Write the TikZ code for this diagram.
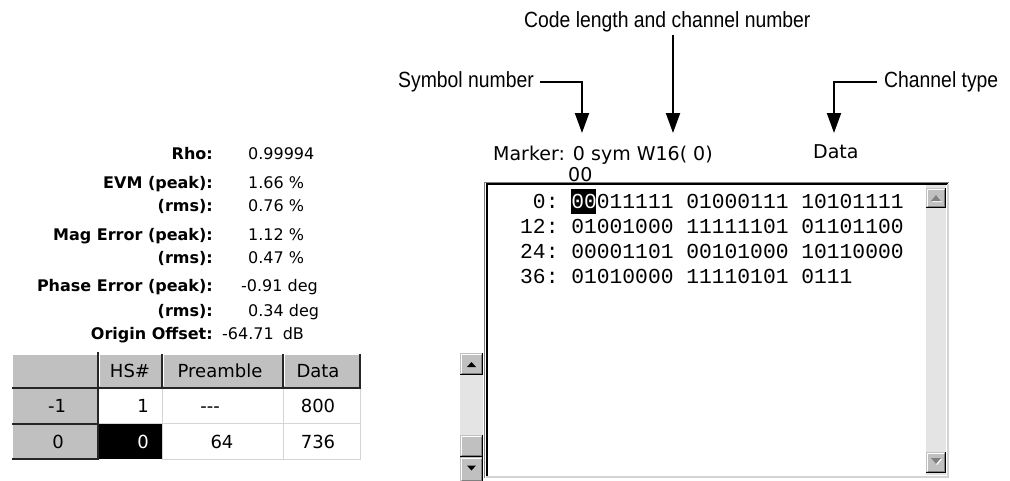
\documentclass[tikz,border=0pt]{standalone}
\usepackage{fontspec}
\setmainfont{DejaVu Sans}
\newfontfamily\annfont[FakeStretch=0.88]{Liberation Sans}
\newfontfamily\codefont{Liberation Mono}
\usetikzlibrary{arrows.meta}
\definecolor{btn}{HTML}{C0C0C0}
\definecolor{shd}{HTML}{808080}
\definecolor{trk}{HTML}{E4E4E4}
\definecolor{gridc}{HTML}{D4D4D4}
\newcommand\winbtn[4]{%
  \fill[btn] (#1,#2) rectangle (#3,#4);
  \draw[white,line width=1pt] (#1+1.5,#4-2) -- (#1+1.5,#2+1.5) -- (#3-2,#2+1.5);
  \draw[shd,line width=1pt] (#1+1.5,#4-1.5) -- (#3-1.5,#4-1.5) -- (#3-1.5,#2+1.5);
  \draw[black,line width=1pt] (#1,#4-0.5) -- (#3-0.5,#4-0.5) -- (#3-0.5,#2);
}
\begin{document}
\begin{tikzpicture}[x=1pt,y=-1pt,
  ann/.style={font=\annfont\fontsize{22}{26}\selectfont,inner sep=0pt},
  arr/.style={line width=2pt,-{Triangle[length=20pt,width=14pt]}},
  lab/.style={font=\bfseries\fontsize{16}{19}\selectfont,anchor=base east,inner sep=0pt},
  val/.style={font=\fontsize{16}{19}\selectfont,anchor=base west,inner sep=0pt},
  scr/.style={font=\fontsize{19}{22}\selectfont,anchor=base west,inner sep=0pt},
  bits/.style={font=\codefont\fontsize{21.3}{25}\selectfont\frenchspacing,anchor=base west,inner sep=0pt},
  tcell/.style={font=\fontsize{18}{21}\selectfont,anchor=base,inner sep=0pt},
  tcellr/.style={tcell,anchor=base east}]
\useasboundingbox (0,0) rectangle (1010,480);
\fill[white] (0,0) rectangle (1010,480);

% ---------- left panel: measurements ----------
\node[lab] (rhoL) at (213,159) {Rho:};
\node[val] (rhoV) at (248,159) {0.99994};
\node[lab] (evmL) at (213,188) {EVM (peak):};
\node[val] (evmV) at (248,188) {1.66 \%};
\node[lab] (evmrL) at (213,211) {(rms):};
\node[val] (evmrV) at (248,211) {0.76 \%};
\node[lab] (magL) at (213,240) {Mag Error (peak):};
\node[val] (magV) at (248,240) {1.12 \%};
\node[lab] (magrL) at (213,263) {(rms):};
\node[val] (magrV) at (248,263) {0.47 \%};
\node[lab] (phL) at (213,291) {Phase Error (peak):};
\node[val] (phV) at (241,291) {-0.91 deg};
\node[lab] (phrL) at (213,316) {(rms):};
\node[val] (phrV) at (248,316) {0.34 deg};
\node[lab] (ooL) at (213,339) {Origin Offset:};
\node[val] (ooV) at (222,339) {-64.71\hspace{9pt}dB};

% ---------- table ----------
\fill[btn] (12,354) rectangle (361,387);
\fill[btn] (12,387) rectangle (98,459);
\fill[white] (98,387) rectangle (361,459);
\fill[black] (98,423) rectangle (162,459);
% highlights
\draw[white,line width=1pt] (12,354.5) -- (361,354.5);
\draw[white,line width=1pt] (12.5,354) -- (12.5,459);
\foreach \xx in {99.5,163.5,284.5}{\draw[white,line width=1pt] (\xx,355) -- (\xx,386);}
\draw[white,line width=1pt] (12,388.5) -- (97,388.5);
\draw[white,line width=1pt] (12,424.5) -- (97,424.5);
% light grid in white area
\draw[gridc,line width=1pt] (99,423) -- (361,423);
\draw[gridc,line width=1pt] (162,459) -- (361,459);
\draw[gridc,line width=1pt] (162,388) -- (162,459);
\draw[gridc,line width=1pt] (283,388) -- (283,459);
\draw[gridc,line width=1pt] (360.5,388) -- (360.5,459);
% dark lines
\draw[black!85,line width=2pt] (12,388) -- (361,388);
\draw[black!85,line width=2pt] (12,423.5) -- (98,423.5);
\draw[black!85,line width=2pt] (12,459) -- (98,459);
\draw[black!85,line width=2pt] (98,352) -- (98,460);
\foreach \xx in {162,283,360}{\draw[black!85,line width=2pt] (\xx,354) -- (\xx,388);}
% table text
\node[tcell] (hHS) at (130,377) {HS\#};
\node[tcell] (hPre) at (220,377) {Preamble};
\node[tcell] (hData) at (318,377) {Data};
\node[tcell] (r1a) at (57,412) {-1};
\node[tcellr] (r1b) at (149,412) {1};
\node[tcell] (r1c) at (210,412) {-{}-{}-};
\node[tcell] (r1d) at (318,412) {800};
\node[tcell] (r2a) at (58,448) {0};
\node[tcellr,text=white] (r2b) at (149,448) {0};
\node[tcell] (r2c) at (222,448) {64};
\node[tcell] (r2d) at (318,448) {736};

% ---------- annotations ----------
\node[ann,anchor=base west] (code) at (524,27) {Code length and channel number};
\node[ann,anchor=west] (symnum) at (398,82) {Symbol number};
\node[ann,anchor=west] (chtype) at (884,82) {Channel type};
\coordinate (codetop) at (673,35);
\coordinate (codetip) at (673,133);
\coordinate (symtip) at (582,133);
\coordinate (chtip) at (834,133);
\draw[arr] (codetop) -- (codetip);
\draw[arr] ([xshift=6pt]symnum.east) -| (symtip);
\draw[arr] ([xshift=-7pt]chtype.west) -| (chtip);

% ---------- marker line ----------
\node[scr] (marker) at (493,160) {Marker: 0 sym W16( 0)};
\node[scr] (mk00) at (568,181) {00};
\node[scr] (dtype) at (813,158) {Data};

% ---------- bit window ----------
\fill[white] (485,182) rectangle (949,478);
\draw[shd,line width=1pt] (484.5,478) -- (484.5,182.5) -- (949,182.5);
\draw[black,line width=2pt] (487,477) -- (487,184) -- (948,184);
\draw[btn!70,line width=2pt] (486,476.5) -- (948,476.5) -- (948,184);
% right scrollbar
\fill[trk] (926,185) rectangle (946,475);
\winbtn{926}{188}{946}{208}
\winbtn{926}{452}{946}{473}
\fill[white] (932,202) -- (942,202) -- (937,196) -- cycle;
\fill[shd] (931,201) -- (941,201) -- (936,195) -- cycle;
\fill[white] (932,459) -- (942,459) -- (937,465) -- cycle;
\fill[shd] (931,458) -- (941,458) -- (936,464) -- cycle;
% bit rows
\fill[black] (570.5,188.5) rectangle (596,213.5);
\node[bits] (row0) at (520,208.5) {\phantom{0}0: \textcolor{white}{00}011111 01000111 10101111};
\node[bits] (row1) at (520,233.5) {12: 01001000 11111101 01101100};
\node[bits] (row2) at (520,258.5) {24: 00001101 00101000 10110000};
\node[bits] (row3) at (520,283.5) {36: 01010000 11110101 0111};

% ---------- left scrollbar ----------
\fill[trk] (460,375) rectangle (483,435);
\winbtn{460}{353}{483}{375}
\winbtn{460}{435}{483}{457}
\winbtn{460}{457}{483}{482}
\fill[black] (467,367) -- (476,367) -- (471.5,362) -- cycle;
\fill[black] (467,465.5) -- (476,465.5) -- (471.5,470.5) -- cycle;
\end{tikzpicture}
\end{document}
